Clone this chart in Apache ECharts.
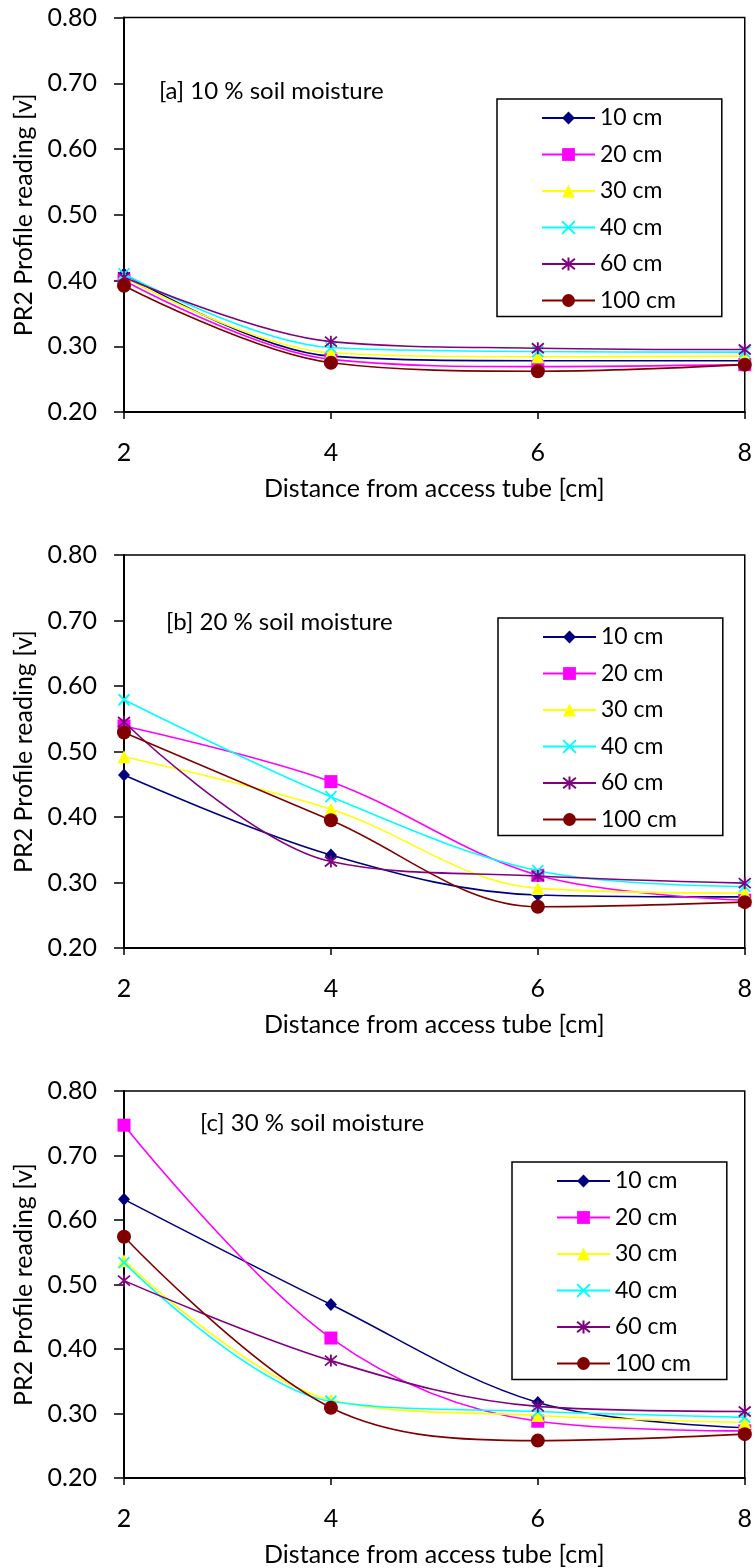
<!DOCTYPE html>
<html>
<head>
<meta charset="utf-8">
<script src="https://cdn.jsdelivr.net/npm/echarts@6/dist/echarts.min.js"></script>
<style>
html,body{margin:0;padding:0;background:#fff;}
#chart{width:755px;height:1568px;}
</style>
</head>
<body>
<div id="chart"></div>
<script>
// x categories (distance from access tube, cm)
const distances = [2, 4, 6, 8];
const depthLabels = ['10 cm', '20 cm', '30 cm', '40 cm', '60 cm', '100 cm'];
const yTicks = [0.2, 0.3, 0.4, 0.5, 0.6, 0.7, 0.8];
const xTicks = [2, 4, 6, 8];
const panelTitles = ['[a] 10 % soil moisture', '[b] 20 % soil moisture', '[c] 30 % soil moisture'];

// [a] 10 % soil moisture
const a10  = [0.410, 0.285, 0.278, 0.278];
const a20  = [0.400, 0.280, 0.269, 0.272];
const a30  = [0.405, 0.290, 0.284, 0.285];
const a40  = [0.410, 0.298, 0.292, 0.291];
const a60  = [0.405, 0.307, 0.297, 0.295];
const a100 = [0.392, 0.275, 0.262, 0.272];

// [b] 20 % soil moisture
const b10  = [0.464, 0.342, 0.281, 0.278];
const b20  = [0.539, 0.454, 0.311, 0.273];
const b30  = [0.492, 0.412, 0.291, 0.284];
const b40  = [0.579, 0.431, 0.318, 0.294];
const b60  = [0.545, 0.332, 0.310, 0.299];
const b100 = [0.529, 0.395, 0.263, 0.270];

// [c] 30 % soil moisture
const c10  = [0.632, 0.469, 0.317, 0.278];
const c20  = [0.747, 0.417, 0.288, 0.273];
const c30  = [0.537, 0.321, 0.297, 0.286];
const c40  = [0.534, 0.319, 0.303, 0.294];
const c60  = [0.506, 0.382, 0.311, 0.303];
const c100 = [0.574, 0.309, 0.258, 0.268];

const panels = [
  [a10, a20, a30, a40, a60, a100],
  [b10, b20, b30, b40, b60, b100],
  [c10, c20, c30, c40, c60, c100]
];

const FONT = 'Lato';
const colors = ['#000080', '#FF00FF', '#FFFF00', '#00FFFF', '#800080', '#800000'];
const symbols = [
  'diamond', 'rect', 'triangle',
  'path://M0,0L10,10M10,0L0,10',
  'path://M0,0L10,10M10,0L0,10M5,-1L5,11',
  'circle'
];
const symbolSizes = [[12, 13], 13, 13, 11, 12, 14];
const strokeOnly = [false, false, false, true, true, false];

const grids = [
  {left: 124, right: 9, top: 17.5, height: 394.5},
  {left: 124, right: 9, top: 555, height: 393},
  {left: 124, right: 9, top: 1091, height: 389}
];
const legendPos = [
  {left: 497, top: 99},
  {left: 498, top: 618},
  {left: 512, top: 1162}
];
const titlePos = [
  {left: 159, top: 79},
  {left: 166, top: 610},
  {left: 200, top: 1111}
];

const option = {
  animation: false,
  backgroundColor: '#fff',
  title: panelTitles.map((t, i) => ({
    text: t, left: titlePos[i].left, top: titlePos[i].top, padding: 0,
    textStyle: {fontFamily: FONT, fontSize: 24, fontWeight: 'normal', color: '#000'}
  })),
  grid: grids.map(g => Object.assign({show: true, borderColor: '#000', borderWidth: 1.5, backgroundColor: 'transparent'}, g)),
  legend: legendPos.map((p, i) => ({
    left: p.left, top: p.top, orient: 'vertical',
    data: depthLabels,
    backgroundColor: '#fff',
    borderColor: '#000', borderWidth: 1.5,
    padding: i === 2 ? [7, 36, 4, 44] : [7, 46, 4, 44],
    itemWidth: 53, itemHeight: 16, itemGap: 12.5,
    selectedMode: false,
    textStyle: {fontFamily: FONT, fontSize: 23, color: '#000', lineHeight: 24}
  })),
  xAxis: grids.map((g, i) => ({
    type: 'value', gridIndex: i, min: 2, max: 8, interval: 2,
    name: 'Distance from access tube [cm]', nameLocation: 'middle', nameGap: 64,
    nameTextStyle: {fontFamily: FONT, fontSize: 25, color: '#000'},
    axisLine: {show: true, onZero: false, lineStyle: {color: '#000', width: 2}},
    axisTick: {show: true, inside: false, length: 7, lineStyle: {color: '#000', width: 1.5}},
    axisLabel: {fontFamily: FONT, fontSize: 25, color: '#000', margin: 28,
      formatter: v => xTicks.indexOf(v) >= 0 ? String(v) : ''},
    splitLine: {show: false}
  })),
  yAxis: grids.map((g, i) => ({
    type: 'value', gridIndex: i, min: 0.2, max: 0.8, interval: 0.1,
    name: 'PR2 Profile reading [v]', nameLocation: 'middle', nameGap: 84, nameRotate: 90,
    nameTextStyle: {fontFamily: FONT, fontSize: 25, color: '#000'},
    axisLine: {show: true, onZero: false, lineStyle: {color: '#000', width: 2}},
    axisTick: {show: true, inside: false, length: 10, lineStyle: {color: '#000', width: 1.5}},
    axisLabel: {fontFamily: FONT, fontSize: 25, color: '#000', margin: 27,
      formatter: v => v.toFixed(2)},
    splitLine: {show: false}
  })),
  series: []
};

panels.forEach((vals, p) => {
  vals.forEach((arr, s) => {
    option.series.push({
      type: 'line', name: depthLabels[s],
      xAxisIndex: p, yAxisIndex: p,
      data: distances.map((d, k) => [d, arr[k]]),
      smooth: 0.35,
      clip: false,
      symbol: symbols[s], symbolSize: symbolSizes[s],
      showAllSymbol: true,
      color: colors[s],
      lineStyle: {color: colors[s], width: 1.6},
      itemStyle: strokeOnly[s]
        ? {color: colors[s], borderColor: colors[s], borderWidth: 1.8}
        : {color: colors[s], borderWidth: 0},
      emphasis: {disabled: true},
      z: 2 + s
    });
  });
});

const chart = echarts.init(document.getElementById('chart'), null, {renderer: 'canvas'});
chart.setOption(option);
</script>
</body>
</html>
